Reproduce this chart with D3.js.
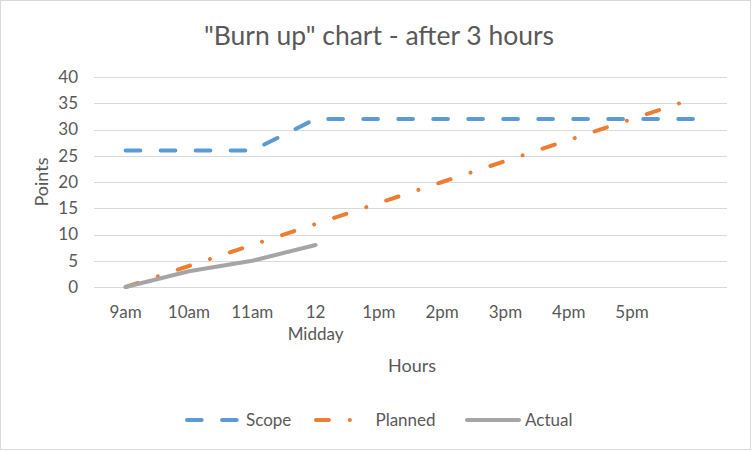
<!DOCTYPE html>
<html><head><meta charset="utf-8">
<script src="https://cdn.jsdelivr.net/npm/d3@7"></script>
<style>body{margin:0;background:#fff;} text{font-family:Lato,"Open Sans",sans-serif;fill:#595959;}</style>
</head><body>
<svg id="c" width="752" height="451"></svg>
<script>
const categories = ["9am","10am","11am","12\nMidday","1pm","2pm","3pm","4pm","5pm",""];
const scope   = [26,26,26,32,32,32,32,32,32,32];
const planned = [0,4,8,12,16,20,24,28,32,36];
const actual  = [0,3,5,8];
const yTicks  = [0,5,10,15,20,25,30,35,40];
const seriesNames = ["Scope","Planned","Actual"];
const colors = ["#5b9bd5","#ed7d31","#a5a5a5"];

const svg = d3.select("#c");
svg.append("rect").attr("x",0.5).attr("y",0.5).attr("width",750).attr("height",449)
  .attr("fill","#fff").attr("stroke","#d9d9d9").attr("stroke-width",1);

const x = d3.scaleBand().domain(d3.range(categories.length)).range([94,727]).padding(0);
const cx = i => x(i) + x.bandwidth()/2;
const y = d3.scaleLinear().domain([0,40]).range([287,77]);

// gridlines
svg.append("g").selectAll("line").data(yTicks).join("line")
  .attr("x1",94).attr("x2",727).attr("y1",d=>Math.round(y(d))+0.5).attr("y2",d=>Math.round(y(d))+0.5)
  .attr("stroke","#d9d9d9").attr("stroke-width",1);

// y labels
svg.append("g").selectAll("text").data(yTicks).join("text")
  .attr("x",78).attr("y",d=>y(d)).attr("dy","0.35em").attr("text-anchor","end")
  .style("font-size","17px").text(d=>d);

// x labels
const xl = svg.append("g").selectAll("text").data(categories).join("text")
  .attr("x",(d,i)=>cx(i)).attr("y",318).attr("text-anchor","middle").style("font-size","17px");
xl.each(function(d,i){
  const t = d3.select(this);
  d.split("\n").forEach((s,k)=>{
    t.append("tspan").attr("x",cx(i)).attr("dy",k===0?0:21.5).text(s);
  });
});

// title & axis titles
svg.append("text").attr("x",379).attr("y",45).attr("text-anchor","middle")
  .style("font-size","26.5px").text('"Burn up" chart - after 3 hours');
svg.append("text").attr("x",412).attr("y",371.5).attr("text-anchor","middle")
  .style("font-size","18px").text("Hours");
svg.append("text").attr("transform","translate(47.5,182) rotate(-90)").attr("text-anchor","middle")
  .style("font-size","18px").text("Points");

const line = d3.line().x((d,i)=>cx(i)).y(d=>y(d));
const w = 4;
const dashScope = `${18.7-w},${16.3+w}`;
const dashPlanned = `${16.9-w},${19+w/2},0.001,${19+w/2}`;

svg.append("path").datum(scope).attr("d",line).attr("fill","none")
  .attr("stroke",colors[0]).attr("stroke-width",w).attr("stroke-linecap","round").attr("stroke-linejoin","round")
  .attr("stroke-dasharray",dashScope);
svg.append("path").datum(planned).attr("d",line).attr("fill","none")
  .attr("stroke",colors[1]).attr("stroke-width",w).attr("stroke-linecap","round").attr("stroke-linejoin","round")
  .attr("stroke-dasharray",dashPlanned);
svg.append("path").datum(actual).attr("d",line).attr("fill","none")
  .attr("stroke",colors[2]).attr("stroke-width",w).attr("stroke-linecap","round").attr("stroke-linejoin","round");

// legend
const legY = 420;
const leg = [
  {x1:187,x2:240,tx:246,dash:dashScope},
  {x1:316,x2:370,tx:375.5,dash:dashPlanned},
  {x1:467,x2:519,tx:525,dash:null}
];
leg.forEach((L,i)=>{
  const l = svg.append("line").attr("x1",L.x1).attr("x2",L.x2).attr("y1",legY).attr("y2",legY)
    .attr("stroke",colors[i]).attr("stroke-width",w).attr("stroke-linecap","round");
  if(L.dash) l.attr("stroke-dasharray",L.dash);
  svg.append("text").attr("x",L.tx).attr("y",legY).attr("dy","0.35em").style("font-size","17px").text(seriesNames[i]);
});
</script>
</body></html>
